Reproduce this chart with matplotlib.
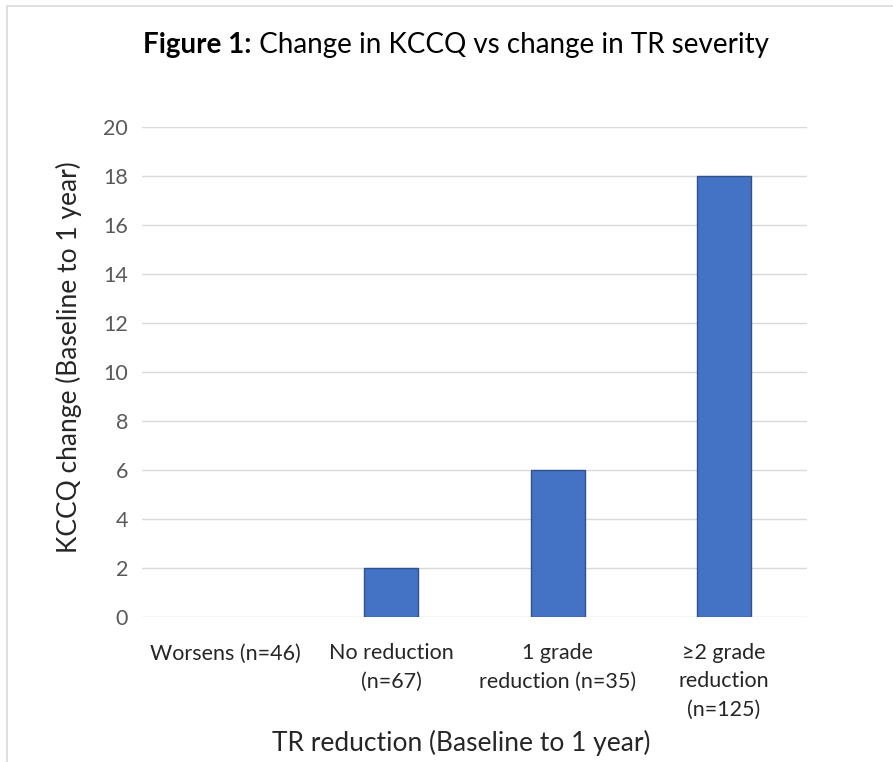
import matplotlib
matplotlib.use('Agg')
import matplotlib.pyplot as plt
from matplotlib.patches import Rectangle

plt.rcParams['font.family'] = ['Lato', 'DejaVu Sans']

categories = ['Worsens (n=46)', 'No reduction\n(n=67)', '1 grade\nreduction (n=35)', '\u22652 grade\nreduction\n(n=125)']
kccq_change = [0, 2, 6, 18]
y_ticks = [0, 2, 4, 6, 8, 10, 12, 14, 16, 18, 20]

W, H = 893, 762
fig = plt.figure(figsize=(W / 100, H / 100), dpi=100)

# plot area in pixels: x 142..807, y 127..617
ax = fig.add_axes([142 / W, 1 - 617 / H, (807 - 142) / W, (617 - 127) / H])

x = list(range(len(categories)))
lw = [1.0 if v else 0 for v in kccq_change]
ax.bar(x, kccq_change, width=0.325, color='#4472C4', edgecolor='#2F528F', linewidth=lw, zorder=3)

ax.set_xlim(-0.5, len(categories) - 0.5)
ax.set_ylim(0, 20)
ax.set_yticks(y_ticks)
ax.set_xticks(x)
ax.set_xticklabels(categories, fontsize=15.5, color='#262626', linespacing=1.5)
ax.tick_params(axis='y', labelsize=15.5, labelcolor='#595959', length=0, pad=10)
ax.tick_params(axis='x', length=0, pad=19)
ax.grid(axis='y', color='#D9D9D9', linewidth=1.0, zorder=0)
for s in ax.spines.values():
    s.set_visible(False)

# title with bold prefix built from two pieces
t1 = fig.text(0, 1 - 45 / H, 'Figure 1:', fontsize=20, fontweight='bold', va='center', color='black')
t2 = fig.text(0, 1 - 45 / H, ' Change in KCCQ vs change in TR severity', fontsize=20, va='center', color='black')
fig.canvas.draw()
r = fig.canvas.get_renderer()
w1 = t1.get_window_extent(r).width
w2 = t2.get_window_extent(r).width
start = 456 - (w1 + w2) / 2
t1.set_x(start / W)
t2.set_x((start + w1) / W)

fig.text(69 / W, 1 - 357 / H, 'KCCQ change (Baseline to 1 year)', fontsize=19, rotation=90,
         ha='center', va='center', color='#262626')
fig.text(461 / W, 1 - 743 / H, 'TR reduction (Baseline to 1 year)', fontsize=19,
         ha='center', va='center', color='#262626')

# chart frame
fig.add_artist(Rectangle((7 / W, -0.1), 1.2, 1 - 6 / H + 0.1, transform=fig.transFigure,
                         fill=False, edgecolor='#D9D9D9', linewidth=1.2))

fig.savefig('out.png', dpi=100)
